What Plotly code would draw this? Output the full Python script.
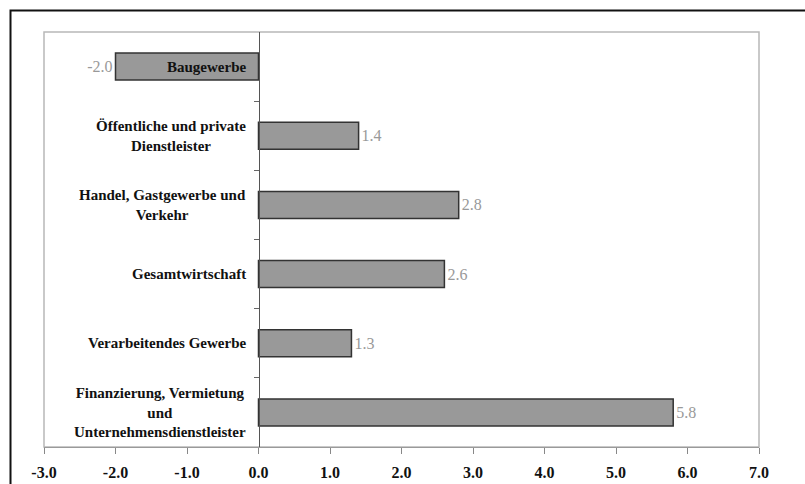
import plotly.graph_objects as go

# Sectors from top to bottom and their growth values (%)
categories = [
    "Baugewerbe",
    "Öffentliche und private<br>Dienstleister",
    "Handel, Gastgewerbe und<br>Verkehr",
    "Gesamtwirtschaft",
    "Verarbeitendes Gewerbe",
    "Finanzierung, Vermietung<br>und<br>Unternehmensdienstleister",
]
values = [-2.0, 1.4, 2.8, 2.6, 1.3, 5.8]
x_ticks = [-3.0, -2.0, -1.0, 0.0, 1.0, 2.0, 3.0, 4.0, 5.0, 6.0, 7.0]

SERIF = "Tinos, 'Liberation Serif', 'Times New Roman', 'Nimbus Roman', 'DejaVu Serif', serif"
positions = list(range(len(categories)))

fig = go.Figure()
fig.add_trace(go.Bar(
    x=values,
    y=positions,
    orientation="h",
    width=0.39,
    marker=dict(color="#999999", line=dict(color="#333333", width=1.5)),
    text=[f"{v:.1f}" for v in values],
    textposition="outside",
    textfont=dict(family=SERIF, size=16, color="#999999"),
    cliponaxis=False,
    hoverinfo="skip",
))

# Sector names, right-aligned against the zero line
annotations = []
for pos, name in zip(positions, categories):
    annotations.append(dict(
        x=0, y=pos, xref="x", yref="y",
        text=f"<b>{name}</b>",
        showarrow=False,
        xanchor="right", yanchor="middle",
        align="center",
        xshift=-11,
        font=dict(family=SERIF, size=15, color="#111111"),
    ))

x0_frac = (0 - x_ticks[0]) / (x_ticks[-1] - x_ticks[0])

fig.update_layout(
    width=805, height=484,
    margin=dict(l=44, r=46, t=32, b=37),
    paper_bgcolor="white",
    plot_bgcolor="white",
    showlegend=False,
    annotations=annotations,
    xaxis=dict(
        range=[x_ticks[0], x_ticks[-1]],
        tickvals=x_ticks,
        ticktext=[f"<b>{t:.1f}</b>" for t in x_ticks],
        tickfont=dict(family=SERIF, size=16, color="#111111"),
        ticks="outside", ticklen=6, tickwidth=1, tickcolor="#888888",
        showline=True, linecolor="#9a9a9a", linewidth=1,
        showgrid=False, zeroline=False,
        ticklabelstandoff=5,
        automargin=False,
    ),
    yaxis=dict(
        range=[len(categories) - 0.5, -0.5],
        anchor="free", position=x0_frac,
        tickvals=[p + 0.5 for p in positions[:-1]],
        showticklabels=False,
        ticks="outside", ticklen=5, tickwidth=1, tickcolor="#666666",
        showline=True, linecolor="#555555", linewidth=1,
        showgrid=False, zeroline=False,
        automargin=False,
    ),
    shapes=[
        # light plot-area border
        dict(type="rect", xref="paper", yref="paper", x0=0, x1=1, y0=0, y1=1,
             line=dict(color="#b8b8b8", width=1.5), layer="below"),
        # outer frame around the whole chart
        dict(type="rect", xref="paper", yref="paper",
             x0=(10.5 - 44) / 715, x1=1.3, y0=-0.4, y1=1 + (32 - 10.5) / 415,
             line=dict(color="#111111", width=2)),
    ],
)

fig.write_html("out.html")
